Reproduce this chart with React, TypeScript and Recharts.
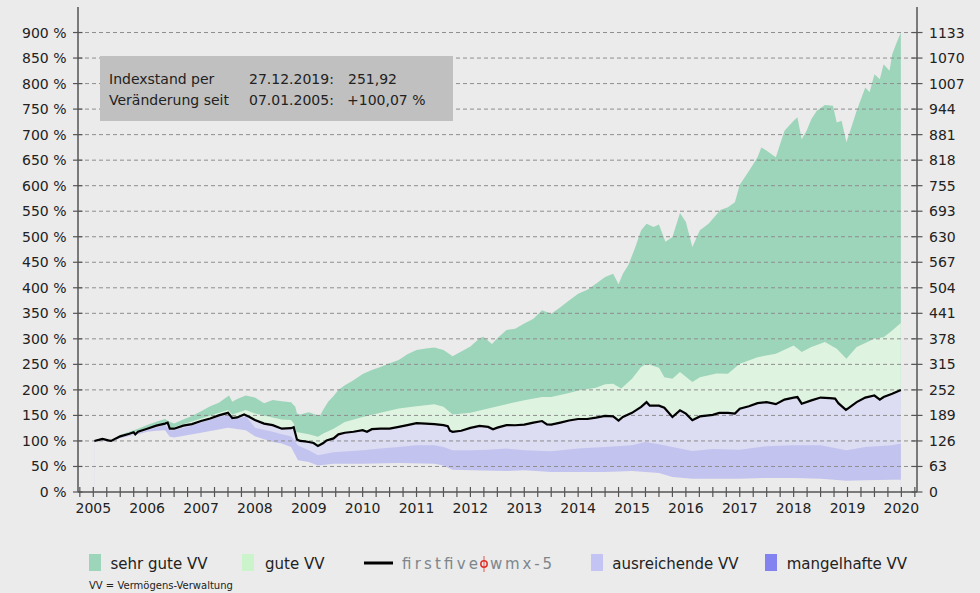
import React from 'react';
import { ComposedChart, Area, Line, XAxis, YAxis, ReferenceLine, ReferenceArea } from 'recharts';

// ---------- tick labels ----------
const yearLabels = [2005, 2006, 2007, 2008, 2009, 2010, 2011, 2012, 2013, 2014, 2015, 2016, 2017, 2018, 2019, 2020];
const leftTicks = [0, 50, 100, 150, 200, 250, 300, 350, 400, 450, 500, 550, 600, 650, 700, 750, 800, 850, 900];
const rightTickLabels = ['0', '63', '126', '189', '252', '315', '378', '441', '504', '567', '630', '693', '755', '818', '881', '944', '1007', '1070', '1133'];

// ---------- firstfive wmx-5 index (%) ----------
const indexDates = [
  2005.02, 2005.10, 2005.17, 2005.28, 2005.33, 2005.42, 2005.5, 2005.67, 2005.75, 2005.78, 2005.83,
  2006.0, 2006.17, 2006.33, 2006.38, 2006.42, 2006.5, 2006.67, 2006.83,
  2007.0, 2007.17, 2007.33, 2007.5, 2007.58, 2007.67, 2007.8, 2007.9,
  2008.0, 2008.17, 2008.33, 2008.5, 2008.67, 2008.72, 2008.78, 2008.84, 2008.93,
  2009.0, 2009.09, 2009.17, 2009.27, 2009.33, 2009.46, 2009.55, 2009.67, 2009.83,
  2010.0, 2010.08, 2010.17, 2010.33, 2010.5, 2010.67, 2010.83,
  2011.0, 2011.17, 2011.33, 2011.5, 2011.58, 2011.62, 2011.67, 2011.83,
  2012.0, 2012.17, 2012.33, 2012.42, 2012.5, 2012.67, 2012.83,
  2013.0, 2013.17, 2013.33, 2013.42, 2013.5, 2013.67, 2013.83,
  2014.0, 2014.17, 2014.33, 2014.5, 2014.65, 2014.75, 2014.83,
  2015.0, 2015.17, 2015.27, 2015.33, 2015.5, 2015.6, 2015.75, 2015.89,
  2016.0, 2016.12, 2016.26, 2016.42, 2016.5, 2016.62, 2016.78, 2016.91,
  2017.0, 2017.17, 2017.33, 2017.5, 2017.67, 2017.83,
  2018.0, 2018.07, 2018.15, 2018.33, 2018.5, 2018.67, 2018.77, 2018.83, 2018.97,
  2019.0, 2019.17, 2019.33, 2019.5, 2019.6, 2019.67, 2019.83, 2019.99,
];
const indexValues = [
  100, 102, 104, 101, 100, 105, 109, 114, 117, 113, 118,
  124, 130, 134, 136, 124, 124, 130, 133,
  139, 144, 150, 155, 145, 146, 152, 147,
  141, 134, 131, 124, 125, 127, 103, 100, 99,
  98, 96, 90, 96, 101, 105, 113, 116, 118,
  121, 118, 123, 124, 124, 127.5, 131,
  135, 134, 133, 131, 129, 120, 118, 120,
  125.5, 129.5, 127.5, 123, 126, 131, 130.7,
  132, 136, 139, 132.6, 132, 136, 140,
  143, 143, 145.7, 149, 148, 140, 147,
  155, 166.6, 176, 169, 169, 165, 147, 160,
  153.5, 140.5, 148, 150, 151, 155, 155, 153.5,
  163, 168, 174, 176, 172, 181,
  185, 186, 173, 179.5, 185, 184, 183, 174, 161,
  163, 176, 185, 189, 181, 186, 192.6, 200,
];

// ---------- upper edge of "sehr gute VV" band ----------
const sehrDates = [
  2005.02, 2005.17, 2005.33, 2005.5, 2005.67, 2005.83,
  2006.0, 2006.17, 2006.33, 2006.42, 2006.5, 2006.67, 2006.83,
  2007.0, 2007.17, 2007.33, 2007.52, 2007.58, 2007.67, 2007.83,
  2008.0, 2008.17, 2008.33, 2008.5, 2008.67, 2008.75, 2008.78, 2008.84,
  2009.0, 2009.12, 2009.21, 2009.27, 2009.36, 2009.46, 2009.55, 2009.67, 2009.83,
  2010.0, 2010.17, 2010.33, 2010.5, 2010.67, 2010.83,
  2011.0, 2011.17, 2011.33, 2011.5, 2011.67, 2011.83,
  2012.0, 2012.17, 2012.24, 2012.4, 2012.5, 2012.67, 2012.83,
  2013.0, 2013.17, 2013.33, 2013.5, 2013.67, 2013.83,
  2014.0, 2014.17, 2014.33, 2014.5, 2014.65, 2014.75, 2014.83, 2014.93,
  2015.05, 2015.17, 2015.27, 2015.4, 2015.5, 2015.62, 2015.75, 2015.89,
  2016.0, 2016.12, 2016.26, 2016.42, 2016.55, 2016.64, 2016.78, 2016.91,
  2017.0, 2017.17, 2017.33, 2017.4, 2017.5, 2017.67, 2017.83,
  2018.0, 2018.07, 2018.15, 2018.24, 2018.33, 2018.43, 2018.58, 2018.73, 2018.8, 2018.89, 2018.98,
  2019.07, 2019.17, 2019.33, 2019.41, 2019.5, 2019.6, 2019.67, 2019.78, 2019.83, 2019.9, 2019.99,
];
const sehrValues = [
  100, 104, 101, 112, 118, 124,
  131, 137.5, 143, 137.5, 134, 142, 149,
  158, 168, 175, 189, 177, 182, 189,
  185, 174, 180, 178, 176, 167, 154, 152,
  156, 152, 150, 161.5, 176.6, 188, 200, 209, 219,
  231, 239, 245, 252, 258.5, 270,
  278, 281, 283, 278, 266, 275,
  285, 301, 304, 290, 301, 317.5, 320,
  330, 339.5, 356, 349, 362, 375,
  388.5, 396, 408, 421, 427.6, 407, 427.6, 444,
  476.6, 512.5, 525.6, 519, 524, 490, 499.5, 546.5,
  529, 480, 512.5, 525.6, 541, 552.5, 557.7, 567.5,
  602, 629, 655.5, 675, 668.5, 655.5, 707.7,
  727, 734, 691, 707.7, 730.5, 747, 758, 756.6, 724, 727, 685,
  714, 747, 792.5, 783, 818.5, 808.7, 838, 825, 857.6, 877, 900,
];

// ---------- upper edge of "gute VV" band ----------
const guteDates = [
  2005.02, 2005.17, 2005.33, 2005.5, 2005.83,
  2006.0, 2006.33, 2006.42, 2006.5,
  2007.0, 2007.5, 2007.58, 2007.83,
  2008.0, 2008.33, 2008.5, 2008.67, 2008.72, 2008.77,
  2009.0, 2009.17, 2009.27, 2009.46, 2009.67,
  2010.0, 2010.33, 2010.67,
  2011.0, 2011.33, 2011.5, 2011.67,
  2012.0, 2012.33, 2012.67,
  2013.0, 2013.33, 2013.5, 2013.83,
  2014.0, 2014.33, 2014.5, 2014.65, 2014.8,
  2015.0, 2015.17, 2015.27, 2015.5, 2015.6, 2015.75, 2015.89,
  2016.12, 2016.26, 2016.57, 2016.78,
  2017.0, 2017.33, 2017.67,
  2018.0, 2018.15, 2018.33, 2018.58, 2018.8, 2018.98,
  2019.17, 2019.5, 2019.67, 2019.83, 2019.99,
];
const guteValues = [
  100, 104, 101, 110, 120,
  126, 136, 126, 127,
  144, 160.5, 152, 160.5,
  154, 146, 142, 141, 134, 117.7,
  113, 108, 114.4, 124, 137,
  147, 155, 163.5,
  168, 172, 167, 152,
  155, 163.5, 172,
  179.6, 186, 186, 194,
  199, 204.4, 211, 212, 202.5,
  222, 245, 251, 243.6, 225, 222, 235,
  215.5, 225, 232, 231.7,
  251, 264, 271,
  287, 274, 284, 293.6, 280.6, 261,
  284, 300, 303, 316.5, 331,
];

// ---------- lower edge of "ausreichende VV" band ----------
const ausrDates = [
  2005.02, 2005.17, 2005.33, 2005.5, 2005.67, 2005.78, 2005.83,
  2006.0, 2006.33, 2006.42, 2006.5, 2006.83,
  2007.0, 2007.33, 2007.5, 2007.58, 2007.83, 2007.92,
  2008.0, 2008.33, 2008.5, 2008.67, 2008.8,
  2009.0, 2009.17, 2009.46,
  2010.0, 2010.33, 2010.67,
  2011.0, 2011.33, 2011.5, 2011.67,
  2012.0, 2012.33, 2012.67,
  2013.0, 2013.5,
  2014.0, 2014.5,
  2015.0, 2015.25, 2015.5, 2015.75,
  2016.12, 2016.5,
  2017.0, 2017.5,
  2018.0, 2018.5, 2018.98,
  2019.33, 2019.83, 2019.99,
];
const ausrValues = [
  100, 102, 99, 107, 111, 111, 115,
  121, 131, 121, 121, 130,
  136, 147, 151, 142, 148, 137,
  126, 118, 113, 109, 91,
  81.7, 72, 78,
  81.7, 85, 88,
  91.5, 91.5, 88, 81.7,
  81.7, 83, 85,
  81.7, 80,
  85, 88,
  91.5, 98, 93.5, 88,
  80.4, 84,
  83, 89.6,
  91.5, 91.5, 81.7,
  88, 91.5, 95,
];

// ---------- lower edge of "mangelhafte VV" band ----------
const mangelDates = [
  2005.02, 2005.17, 2005.33, 2005.5, 2005.83,
  2006.0, 2006.17, 2006.33, 2006.42, 2006.5,
  2007.0, 2007.5, 2007.83,
  2008.0, 2008.33, 2008.5, 2008.67, 2008.8,
  2009.0, 2009.17, 2009.46,
  2010.0, 2010.67,
  2011.33, 2011.5, 2011.67,
  2012.0, 2012.67,
  2013.0, 2013.5,
  2014.0, 2014.5,
  2015.0, 2015.25, 2015.5, 2015.75,
  2016.12, 2016.5,
  2017.0, 2017.5,
  2018.0, 2018.5, 2018.98,
  2019.33, 2019.83, 2019.99,
];
const mangelValues = [
  100, 101, 98, 106, 113,
  118, 120, 121, 108, 106.6,
  116, 126, 121,
  109, 98, 95, 88, 62,
  58.7, 52, 55.5,
  55.5, 56.8,
  55.5, 52, 43.7,
  42.4, 41,
  42.6, 39,
  39, 39,
  41, 39, 37, 29.5,
  26, 26,
  26, 27.6,
  27.6, 26, 21.8,
  23, 24, 24,
];

const zip = (d: number[], v: number[]) => d.slice(0, Math.min(d.length, v.length)).map((t, i) => ({ t, v: v[i] }));

const indexData = zip(indexDates, indexValues);
const sehrData = zip(sehrDates, sehrValues);
const guteData = zip(guteDates, guteValues);
const ausrData = zip(ausrDates, ausrValues);
const mangelData = zip(mangelDates, mangelValues);

const quarterTicks: number[] = [];
for (let y = 2004; y <= 2020; y++) {
  for (let q = 0; q < 4; q++) {
    const t = y + q * 0.25;
    if (t >= 2004.75 && t <= 2020.25) quarterTicks.push(t);
  }
}

const BG = '#ebebeb';
const FONT = '"DejaVu Sans", sans-serif';
const AXIS = '#555';
const X_MIN = 2004.716;
const X_MAX = 2020.29;
const START = indexDates[0];

const XTick = (props: any) => {
  const { x, y, payload } = props;
  const v = payload.value;
  const isYear = Math.abs(v - Math.round(v)) < 1e-6 && yearLabels.includes(Math.round(v));
  return (
    <g>
      <line x1={x} x2={x} y1={y - 5} y2={y + 5} stroke={AXIS} strokeWidth={1.2} />
      {isYear && (
        <text x={x} y={y + 21} textAnchor="middle" fontSize={14} fill="#222" fontFamily={FONT}>
          {Math.round(v)}
        </text>
      )}
    </g>
  );
};

const LeftTick = (props: any) => {
  const { x, y, payload } = props;
  return (
    <g>
      <line x1={x - 5} x2={x + 4.5} y1={y} y2={y} stroke={AXIS} strokeWidth={1.2} />
      <text x={x - 11.5} y={y + 5} textAnchor="end" fontSize={14} fill="#222" fontFamily={FONT}>
        {`${payload.value} %`}
      </text>
    </g>
  );
};

const RightTick = (props: any) => {
  const { x, y, payload } = props;
  const idx = leftTicks.indexOf(payload.value);
  return (
    <g>
      <line x1={x - 5.5} x2={x + 5.5} y1={y} y2={y} stroke={AXIS} strokeWidth={1.2} />
      <text x={x + 12} y={y + 5} textAnchor="start" fontSize={14} fill="#222" fontFamily={FONT}>
        {idx >= 0 ? rightTickLabels[idx] : ''}
      </text>
    </g>
  );
};

const legendItems = [
  { label: 'sehr gute VV', color: '#9dd5ba', sx: 89, tx: 110.5 },
  { label: 'gute VV', color: '#ccf4cc', sx: 242, tx: 265 },
  { label: 'ausreichende VV', color: '#c4c4f4', sx: 591, tx: 612.3 },
  { label: 'mangelhafte VV', color: '#8282f0', sx: 765, tx: 786.7 },
];

export default function App() {
  return (
    <div style={{ position: 'absolute', left: 0, top: 0, width: 980, height: 593, background: BG, fontFamily: FONT }}>
      <ComposedChart width={980} height={593} margin={{ top: 7, right: 0, bottom: 0, left: 0 }}>
        <XAxis
          type="number"
          dataKey="t"
          domain={[X_MIN, X_MAX]}
          allowDataOverflow
          ticks={quarterTicks}
          interval={0}
          tick={<XTick />}
          tickLine={false}
          tickSize={0}
          tickMargin={0}
          height={101}
          axisLine={{ stroke: AXIS, strokeWidth: 1.5 }}
        />
        <YAxis
          yAxisId="l"
          type="number"
          domain={[0, 950]}
          allowDataOverflow
          ticks={leftTicks}
          interval={0}
          width={78}
          tick={<LeftTick />}
          tickLine={false}
          tickSize={0}
          tickMargin={0}
          axisLine={{ stroke: AXIS, strokeWidth: 1.5 }}
        />
        <YAxis
          yAxisId="r"
          orientation="right"
          type="number"
          domain={[0, 950]}
          allowDataOverflow
          ticks={leftTicks}
          interval={0}
          width={63}
          tick={<RightTick />}
          tickLine={false}
          tickSize={0}
          tickMargin={0}
          axisLine={{ stroke: AXIS, strokeWidth: 1.5 }}
        />
        <Area yAxisId="l" data={sehrData} dataKey="v" type="linear" stroke="none" fill="#9dd5ba" fillOpacity={1} isAnimationActive={false} activeDot={false} />
        <Area yAxisId="l" data={guteData} dataKey="v" type="linear" stroke="none" fill="#dff3e1" fillOpacity={1} isAnimationActive={false} activeDot={false} />
        <Area yAxisId="l" data={indexData} dataKey="v" type="linear" stroke="none" fill="#dcdcf3" fillOpacity={1} isAnimationActive={false} activeDot={false} />
        <Area yAxisId="l" data={ausrData} dataKey="v" type="linear" stroke="none" fill="#c3c3ef" fillOpacity={1} isAnimationActive={false} activeDot={false} />
        <Area yAxisId="l" data={mangelData} dataKey="v" type="linear" stroke="none" fill={BG} fillOpacity={1} isAnimationActive={false} activeDot={false} />
        <ReferenceArea yAxisId="l" x1={START - 0.03} x2={START + 0.004} y1={1} y2={97} fill={BG} fillOpacity={1} stroke="none" ifOverflow="visible" />
        {leftTicks.filter((v) => v > 0).map((v) => (
          <ReferenceLine key={v} yAxisId="l" y={v} stroke="#8e8e8e" strokeDasharray="4 3" strokeWidth={1} />
        ))}
        <Line yAxisId="l" data={indexData} dataKey="v" type="linear" stroke="#000" strokeWidth={2.2} strokeLinejoin="miter" dot={false} activeDot={false} isAnimationActive={false} />
      </ComposedChart>

      <svg width={980} height={593} style={{ position: 'absolute', left: 0, top: 0, pointerEvents: 'none' }}>
        <rect x={100} y={56} width={353} height={65} fill="#c0c0c0" />
        <g fontFamily={FONT} fontSize={14} fill="#222">
          <text x={109} y={84.3}>Indexstand per</text>
          <text x={249} y={84.3}>27.12.2019:</text>
          <text x={348} y={84.3}>251,92</text>
          <text x={109} y={105.3}>Veränderung seit</text>
          <text x={249} y={105.3}>07.01.2005:</text>
          <text x={347} y={105.3}>+100,07 %</text>
        </g>

        {legendItems.map((it) => (
          <g key={it.label}>
            <rect x={it.sx} y={554} width={12} height={17} fill={it.color} />
            <text x={it.tx} y={569} fontFamily={FONT} fontSize={15} fill="#222">{it.label}</text>
          </g>
        ))}
        <line x1={364} x2={393} y1={563} y2={563} stroke="#000" strokeWidth={3} />
        <text x={402} y={569} fontFamily={FONT} fontSize={15} fill="#7d868c" textLength={76} lengthAdjust="spacing">firstfive</text>
        <circle cx={484} cy={564} r={3.2} fill="none" stroke="#e0302a" strokeWidth={1.5} />
        <line x1={484} x2={484} y1={556} y2={572} stroke="#e0302a" strokeWidth={0.8} />
        <text x={490} y={569} fontFamily={FONT} fontSize={15} fill="#7d868c" textLength={62} lengthAdjust="spacing">wmx-5</text>
        <text x={89} y={589} fontFamily={FONT} fontSize={10} fill="#222">VV = Vermögens-Verwaltung</text>
      </svg>
    </div>
  );
}
